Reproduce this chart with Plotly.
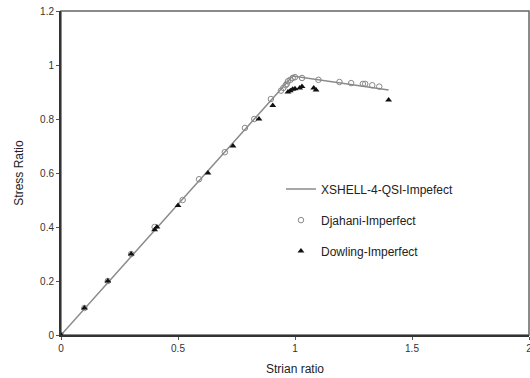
import plotly.graph_objects as go

# XSHELL-4-QSI line
line_x = [0.0, 0.99, 1.40]
line_y = [0.0, 0.959, 0.907]

# Djahani-Imperfect (open circles)
dj_x = [0.0, 0.1, 0.2, 0.3, 0.4, 0.52, 0.59, 0.70, 0.786, 0.826, 0.897, 0.94, 0.95, 0.96, 0.965, 0.97, 0.98, 0.99, 1.0, 1.03, 1.10, 1.19, 1.24, 1.29, 1.30, 1.33, 1.36]
dj_y = [0.0, 0.1, 0.2, 0.3, 0.4, 0.50, 0.577, 0.677, 0.767, 0.80, 0.874, 0.905, 0.915, 0.925, 0.93, 0.94, 0.945, 0.952, 0.955, 0.952, 0.945, 0.937, 0.933, 0.93, 0.93, 0.925, 0.92]

# Dowling-Imperfect (filled triangles)
dw_x = [0.0, 0.1, 0.2, 0.3, 0.4, 0.41, 0.5, 0.628, 0.735, 0.846, 0.905, 0.97, 0.98, 0.99, 1.0, 1.02, 1.03, 1.08, 1.09, 1.40]
dw_y = [0.0, 0.1, 0.2, 0.3, 0.39, 0.40, 0.48, 0.60, 0.70, 0.80, 0.85, 0.90, 0.905, 0.91, 0.912, 0.915, 0.92, 0.915, 0.907, 0.87]

x_ticks = [0, 0.5, 1, 1.5, 2]
x_tick_labels = ["0", "0.5", "1", "1.5", "2"]
y_ticks = [0, 0.2, 0.4, 0.6, 0.8, 1.0, 1.2]
y_tick_labels = ["0", "0.2", "0.4", "0.6", "0.8", "1", "1.2"]

fig = go.Figure()
fig.add_trace(go.Scatter(x=line_x, y=line_y, mode="lines", name="XSHELL-4-QSI-Impefect",
                         line=dict(color="#8a8a8a", width=1.5), legendgroup="a"))
fig.add_trace(go.Scatter(x=dj_x, y=dj_y, mode="markers", name="Djahani-Imperfect",
                         marker=dict(symbol="circle-open", size=5.5, color="#888888", line=dict(width=1)),
                         legendgroup="b"))
fig.add_trace(go.Scatter(x=dw_x, y=dw_y, mode="markers", name="Dowling-Imperfect",
                         marker=dict(symbol="triangle-up", size=6, color="#111111"),
                         legendgroup="c"))

axis_font = dict(family="Liberation Sans, Arial", size=10, color="#333333")
fig.update_layout(
    width=530, height=378, autosize=False,
    margin=dict(l=61, r=1, t=11, b=43),
    paper_bgcolor="white", plot_bgcolor="white",
    font=dict(family="Liberation Sans, Arial", color="#222222"),
    xaxis=dict(range=[0, 2], tickvals=x_ticks, ticktext=x_tick_labels, showgrid=False, zeroline=False,
               showline=True, linecolor="#333333", linewidth=2, ticks="outside", ticklen=3,
               tickcolor="#555555", tickfont=axis_font, automargin=False, ticklabeloverflow="allow",
               title=dict(text="Strian ratio", font=dict(size=12, color="#222222"), standoff=12)),
    yaxis=dict(range=[0, 1.2], tickvals=y_ticks, ticktext=y_tick_labels, showgrid=False, zeroline=False,
               showline=True, linecolor="#333333", linewidth=2, ticks="outside", ticklen=3,
               tickcolor="#555555", tickfont=axis_font, automargin=False,
               title=dict(text="Stress Ratio", font=dict(size=12, color="#222222"), standoff=14)),
    legend=dict(x=0.47, y=0.495, xanchor="left", yanchor="top", bgcolor="rgba(0,0,0,0)",
                font=dict(size=12, color="#222222"), tracegroupgap=12, itemwidth=30),
    shapes=[dict(type="rect", xref="paper", yref="paper", x0=0, y0=0, x1=1, y1=1,
                 line=dict(color="#666666", width=1.5), layer="below")],
)

fig.write_html("out.html", config={"responsive": False, "displayModeBar": False},
               post_script="document.body.style.margin='0';document.body.style.overflow='hidden';")
